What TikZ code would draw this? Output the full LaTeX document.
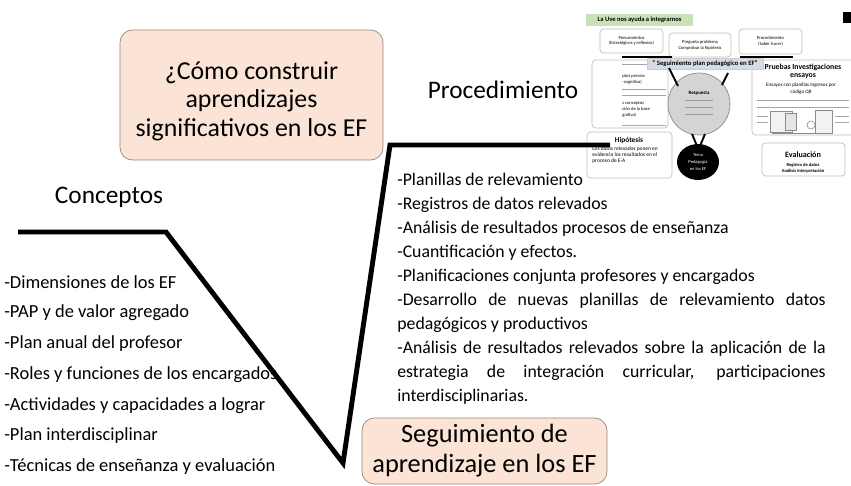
\documentclass[tikz,border=0pt]{standalone}
\usepackage{fontspec}
\setmainfont{Carlito}
\usetikzlibrary{shapes.geometric}
\definecolor{peach}{RGB}{251,228,214}
\definecolor{peachline}{RGB}{150,135,125}
\definecolor{uvegreen}{RGB}{200,226,182}
\definecolor{uvegray}{RGB}{214,220,229}
\begin{document}
\begin{tikzpicture}[x=0.02cm,y=-0.02cm,
    titlebox/.style={draw=peachline, fill=peach, rounded corners=7pt, align=center, inner sep=0pt},
    heading/.style={font=\fontsize{14.4}{17}\selectfont, inner sep=0pt},
    conitem/.style={font=\fontsize{10.5}{12}\selectfont, anchor=west, inner sep=0pt},
    procitems/.style={font=\fontsize{10.1}{13.65}\selectfont, text width=243.8pt, align=justify, inner sep=0pt},
    vline/.style={line width=2.8pt},
    uvebox/.style={draw=black!25, fill=white, rounded corners=2pt, align=center, inner sep=0pt, line width=0.4pt},
    tinytxt/.style={font=\fontsize{2.6}{3.2}\selectfont, align=center, inner sep=0pt},
    tinybold/.style={font=\bfseries\fontsize{4.2}{4.8}\selectfont, align=center, inner sep=0pt},
    uverule/.style={draw=black!35, line width=0.3pt}]
	\useasboundingbox[fill=white] (0,0) rectangle (851,486);

	% Boxes with the guiding question and the goal
	\node[titlebox, minimum width=5.26cm, minimum height=2.6cm] (pregunta) at (251.5,95) {};
	\node[align=center, inner sep=0pt, font=\fontsize{14.7}{16.2}\selectfont] (preguntatxt) at ([yshift=-3.6pt]pregunta.center) {¿Cómo construir\\aprendizajes\\significativos en los EF};
	\node[titlebox, minimum width=4.9cm, minimum height=1.32cm, font=\fontsize{15}{17}\selectfont] (seguim) at (484.5,451) {Seguimiento de\\aprendizaje en los EF};

	% Headings of both arms
	\node[heading] (concepts) at (109,197) {Conceptos};
	\node[heading] (procedure) at (503,90) {Procedimiento};

	% Left arm: concepts
	\foreach \txt [count=\i] in {-Dimensiones de los EF, -PAP y de valor agregado, -Plan anual del profesor, -Roles y funciones de los encargados, -Actividades y capacidades a lograr, -Plan interdisciplinar, -Técnicas de enseñanza y evaluación}
		\node[conitem] (con\i) at (4,{282+30.8*(\i-1)}) {\txt};

	% Right arm: procedure
	\node[procitems, anchor=north west] (proclist) at (397,173) {\hyphenpenalty=10000
		-Planillas de relevamiento\par
		-Registros de datos relevados\par
		-Análisis de resultados procesos de enseñanza\par
		-Cuantificación y efectos.\par
		-Planificaciones conjunta profesores y encargados\par
		-Desarrollo de nuevas planillas de relevamiento datos\linebreak pedagógicos y productivos\par
		-Análisis de resultados relevados sobre la aplicación de la\linebreak estrategia de integración curricular, participaciones\linebreak interdisciplinarias.\par};

	% Small picture of the V diagram (top right)
	\begin{scope}
		\clip (583,0) rectangle (851,182);
		\draw[uvebox] (592,60) rectangle (668,128);
		\node[tinytxt, anchor=west] (prev1) at (622,76) {ptos previos};
		\node[tinytxt, anchor=west] (prev2) at (622,82) {-cognitiva)};
		\node[tinytxt, anchor=west] (prev3) at (622,103) {s conceptos};
		\node[tinytxt, anchor=west] (prev4) at (622,109) {ción de la base};
		\node[tinytxt, anchor=west] (prev5) at (622,115) {gnitiva)};
		\foreach \yy in {64,89,95,125}
			\draw[uverule] (622,\yy) -- (666,\yy);

		\node[draw=none, fill=uvegreen, minimum width=2.14cm, minimum height=0.24cm, font=\bfseries\fontsize{3.7}{4}\selectfont, inner sep=0pt] (uvelabel) at (639.5,20) {La Uve nos ayuda a integrarnos};
		\node[uvebox, minimum width=1.26cm, minimum height=0.48cm, tinytxt] (pens) at (631.5,41) {Pensamientos\\(Estratégicos y reflexivo)};
		\node[uvebox, minimum width=1.24cm, minimum height=0.48cm, tinytxt] (pregprob) at (700,45) {Pregunta problema\\Comprobar la hipótesis};
		\node[uvebox, minimum width=1.26cm, minimum height=0.5cm, tinytxt] (procbox) at (770.5,41.5) {Procedimiento\\(Saber hacer)};
		\draw[line width=0.9pt] (622,57) -- (672,57);
		\draw[line width=0.9pt] (740,57) -- (793,57);

		\node[uvebox, minimum width=2.12cm, minimum height=1.5cm] (prueb) at (805,97.5) {};
		\node[tinybold, font=\bfseries\fontsize{4.4}{5}\selectfont] (pruebt) at (803,71.5) {Pruebas Investigaciones\\ensayos};
		\node[tinytxt, font=\fontsize{2.9}{4}\selectfont] (pruebb) at (801,88.5) {Ensayos con planillas Ingresos por\\código QR};
		\foreach \yy in {100,107}
			\draw[uverule] (757,\yy) -- (849,\yy);
		\foreach \yy in {116,122}
			{\draw[uverule] (757,\yy) -- (768,\yy);
			\draw[uverule] (835,\yy) -- (849,\yy);}
		% sketch of the clipboard picture
		\draw[black!45, fill=black!5, line width=0.3pt] (770,111) rectangle (792,132);
		\draw[black!45, fill=black!10, line width=0.3pt] (785,113) rectangle (796,130);
		\draw[black!45, fill=black!5, line width=0.3pt] (815,110) rectangle (832,133);
		\draw[black!50, line width=0.3pt] (811,125) circle [radius=4];
		\draw[black!45, line width=0.3pt] (772,133) -- (832,133);

		\node[fill=uvegray, draw=black!20, minimum width=2.32cm, minimum height=0.22cm, font=\bfseries\fontsize{3.8}{4}\selectfont, inner sep=0pt] (seglabel) at (705,63.5) {" Seguimiento plan pedagógico en EF"};

		\node[circle, draw=black!45, fill=black!17, minimum size=1.24cm, inner sep=0pt] (resp) at (699,104) {};
		\node[tinytxt, font=\bfseries\fontsize{2.8}{3.2}\selectfont] (resptxt) at (699,93) {Respuesta};
		\foreach \yy in {100,107,114}
			\draw[draw=black!40, line width=0.3pt] (685,\yy) -- (713,\yy);
		\draw[line width=1.1pt] (669,68) -- (678,86);
		\draw[line width=1.1pt] (728,73) -- (722,85);

		\node[ellipse, fill=black, minimum width=0.84cm, minimum height=0.72cm, inner sep=0pt, text=white, font=\fontsize{2.6}{4}\selectfont, align=center] (tema) at (698,162) {Tema\\Pedagogía\\en los EF};
		\draw[line width=1.1pt] (692,134) -- (697,146);
		\draw[line width=1.1pt] (705,134) -- (700,146);

		\node[uvebox, minimum width=1.7cm, minimum height=0.92cm] (hipo) at (629.5,155) {};
		\node[tinybold] (hipot) at (629,140) {Hipótesis};
		\node[tinytxt, font=\fontsize{3.1}{3.4}\selectfont, align=left, anchor=north west] (hipob) at (592,146) {Los datos relevados ponen en\\evidencia los resultados en el\\proceso de E-A};

		\node[uvebox, minimum width=1.66cm, minimum height=0.66cm] (evalb) at (803.5,159.5) {};
		\node[tinybold, font=\bfseries\fontsize{4.6}{5}\selectfont] (evalt) at (803,155) {Evaluación};
		\node[tinytxt, font=\bfseries\fontsize{2.6}{3.4}\selectfont] (evalr) at (803,168) {Registro de datos\\Análisis interpretación};

		\fill (843,12) rectangle (851,23);
	\end{scope}

	% The V line
	\coordinate (c1) at (18,232);
	\coordinate (c2) at (166,232);
	\coordinate (vtip) at (343,463);
	\coordinate (p1) at (390,145);
	\coordinate (p2) at (610,145);
	\draw[vline] (c1) -- (c2) -- (vtip) -- (p1) -- (p2);
\end{tikzpicture}
\end{document}
